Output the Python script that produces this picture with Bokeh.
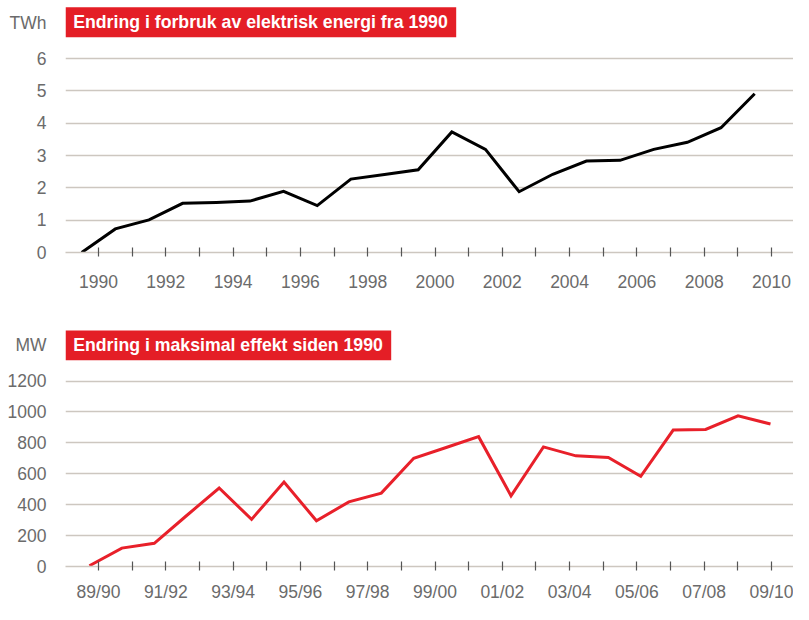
from bokeh.plotting import figure
from bokeh.models import Range1d, FixedTicker, Label, ColumnDataSource
from bokeh.layouts import column
from bokeh.embed import file_html
from bokeh.resources import INLINE

# ---------------- data ----------------
energy_title = "Endring i forbruk av elektrisk energi fra 1990"
energy_unit = "TWh"
energy_years = list(range(1990, 2011))
energy_twh = [0.0, 0.73, 1.01, 1.52, 1.55, 1.59, 1.89, 1.45, 2.27, 2.41, 2.56,
              3.73, 3.19, 1.88, 2.42, 2.83, 2.85, 3.19, 3.41, 3.86, 4.91]
energy_ticks = [0, 1, 2, 3, 4, 5, 6]

power_title = "Endring i maksimal effekt siden 1990"
power_unit = "MW"
power_seasons = ["89/90", "90/91", "91/92", "92/93", "93/94", "94/95", "95/96",
                 "96/97", "97/98", "98/99", "99/00", "00/01", "01/02", "02/03",
                 "03/04", "04/05", "05/06", "06/07", "07/08", "08/09", "09/10"]
power_mw = [5, 119, 150, 330, 508, 305, 547, 296, 418, 475, 700, 770, 840,
            457, 774, 716, 706, 584, 883, 887, 975, 922]
power_ticks = [0, 200, 400, 600, 800, 1000, 1200]

# ---------------- style / layout ----------------
FONT = "Liberation Sans"
GRID = "#cdc7c0"
TICKC = "#555555"
LABELC = "#6b6b6b"
RED = "#e8202a"
BOXRED = "#e41e26"

W = 793
LEFT = 65                  # frame left (px)
PX_PER_YEAR = 33.65
FIRST_TICK_PX = 98
X0 = 1990 - (FIRST_TICK_PX - LEFT) / PX_PER_YEAR
X1 = X0 + (W - LEFT) / PX_PER_YEAR
tick_years = list(range(1990, 2011))


def px_to_x(px):
    return X0 + (px - LEFT) / PX_PER_YEAR


def base_fig(height, bottom, ymax, grid_ticks, unit_value, unit_text, standoff):
    p = figure(width=W, height=height, output_backend="svg", toolbar_location=None,
               x_range=Range1d(X0, X1), y_range=Range1d(0, ymax),
               min_border_left=LEFT, min_border_right=0, min_border_top=0,
               min_border_bottom=bottom)
    p.outline_line_color = None
    p.background_fill_color = "white"
    p.border_fill_color = "white"
    p.xgrid.visible = False
    p.ygrid.ticker = FixedTicker(ticks=grid_ticks)
    p.ygrid.grid_line_color = GRID
    p.ygrid.grid_line_width = 1.5

    xa = p.xaxis[0]
    xa.ticker = FixedTicker(ticks=tick_years[::2], minor_ticks=tick_years[1::2])
    xa.axis_line_color = GRID
    xa.axis_line_width = 1.5
    xa.major_tick_line_color = TICKC
    xa.minor_tick_line_color = TICKC
    xa.major_tick_line_width = 1.2
    xa.minor_tick_line_width = 1.2
    xa.major_tick_in = 5
    xa.major_tick_out = 4
    xa.minor_tick_in = 5
    xa.minor_tick_out = 4
    xa.major_label_text_font = FONT
    xa.major_label_text_font_size = "17.5px"
    xa.major_label_text_color = LABELC
    xa.major_label_standoff = standoff

    ya = p.yaxis[0]
    ya.ticker = FixedTicker(ticks=grid_ticks + [unit_value])
    ya.major_label_overrides = {unit_value: unit_text}
    ya.axis_line_color = None
    ya.major_tick_line_color = None
    ya.minor_tick_line_color = None
    ya.major_tick_in = 0
    ya.major_tick_out = 0
    ya.major_label_text_font = FONT
    ya.major_label_text_font_size = "17.5px"
    ya.major_label_text_color = LABELC
    ya.major_label_standoff = 19
    return p


# ---------------- top: energy ----------------
h1 = 330
frame_h1 = 252
px_per_twh = 32.33
ymax1 = frame_h1 / px_per_twh


def fy1(py):
    return (frame_h1 - py) / px_per_twh


p1 = base_fig(h1, h1 - frame_h1, ymax1, energy_ticks, fy1(22.2), energy_unit, 18)
p1.xaxis[0].major_label_overrides = {y: str(y) for y in tick_years}

src1 = ColumnDataSource(dict(x=[y - 0.5 for y in energy_years], y=energy_twh))
p1.line("x", "y", source=src1, line_color="black", line_width=3, line_join="miter")

p1.quad(left=[px_to_x(65)], right=[px_to_x(455.7)], bottom=[fy1(36.7)], top=[fy1(6.7)],
        fill_color=BOXRED, line_color=None)
p1.add_layout(Label(x=px_to_x(72.7), y=fy1(21.7), text=energy_title, text_color="white",
                    text_font=FONT, text_font_size="17.7px", text_font_style="bold",
                    text_baseline="middle"))

# ---------------- bottom: power ----------------
h2 = 604 - h1
frame_h2 = 238
px_per_200 = 31.17
ymax2 = frame_h2 * 200 / px_per_200


def fy2(py):
    return (frame_h2 - py) * 200 / px_per_200


p2 = base_fig(h2, h2 - frame_h2, ymax2, power_ticks, fy2(14.5), power_unit, 11)
p2.xaxis[0].major_label_overrides = {y: power_seasons[i] for i, y in enumerate(tick_years)}

n = len(power_mw)
step = 20.24 / (n - 1)
src2 = ColumnDataSource(dict(x=[1990 - 0.27 + i * step for i in range(n)], y=power_mw))
p2.line("x", "y", source=src2, line_color=RED, line_width=3, line_join="miter")

p2.quad(left=[px_to_x(65)], right=[px_to_x(390.7)], bottom=[fy2(30)], top=[fy2(0) + 20],
        fill_color=BOXRED, line_color=None)
p2.add_layout(Label(x=px_to_x(72.7), y=fy2(15), text=power_title, text_color="white",
                    text_font=FONT, text_font_size="17.7px", text_font_style="bold",
                    text_baseline="middle"))

layout = column(p1, p2, spacing=0)
open("out.html", "w").write(file_html(layout, INLINE))
